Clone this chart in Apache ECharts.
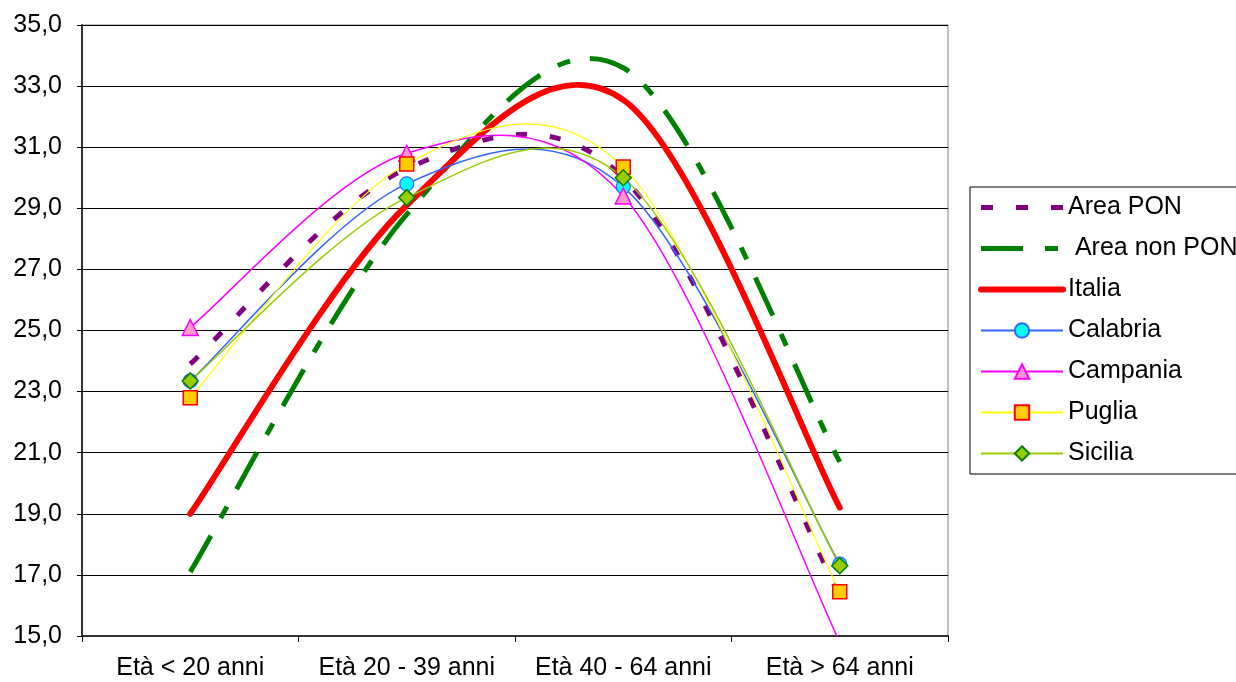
<!DOCTYPE html>
<html>
<head>
<meta charset="utf-8">
<script src="https://cdn.jsdelivr.net/npm/echarts@6/dist/echarts.min.js"></script>
<style>
  html, body { margin: 0; padding: 0; background: #fff; }
  #main { width: 1236px; height: 682px; }
</style>
</head>
<body>
<div id="main"></div>
<script>
// categorie e valori
const categorie = ['Età < 20 anni', 'Età 20 - 39 anni', 'Età 40 - 64 anni', 'Età > 64 anni'];
const areaPon = [23.9, 30.3, 30.0, 16.3];
const areaNonPon = [17.1, 28.8, 33.6, 20.7];
const italia = [19.0, 29.1, 32.55, 19.2];
const calabria = [23.35, 29.8, 29.7, 17.35];
const campania = [25.1, 30.8, 29.4, 14.8];
const puglia = [22.8, 30.45, 30.35, 16.45];
const sicilia = [23.35, 29.35, 30.0, 17.3];

const myChart = echarts.init(document.getElementById('main'));
const font = 'Liberation Sans, Arial, sans-serif';

// curva levigata come quella di Excel (Catmull-Rom -> Bezier, tensione 1/6)
function curva(nome, valori, stile) {
    return {
        name: nome,
        type: 'custom',
        clip: true,
        silent: true,
        z: 2,
        data: valori.map((v, i) => [i, v]),
        renderItem(params, api) {
            if (params.dataIndex !== 0) return null;
            const p = valori.map((v, i) => api.coord([i, v]));
            const n = p.length;
            let d = 'M' + p[0][0] + ' ' + p[0][1];
            for (let i = 0; i < n - 1; i++) {
                const p0 = p[Math.max(i - 1, 0)], p1 = p[i], p2 = p[i + 1], p3 = p[Math.min(i + 2, n - 1)];
                const c1x = p1[0] + (p2[0] - p0[0]) / 6, c1y = p1[1] + (p2[1] - p0[1]) / 6;
                const c2x = p2[0] - (p3[0] - p1[0]) / 6, c2y = p2[1] - (p3[1] - p1[1]) / 6;
                d += ' C' + c1x + ' ' + c1y + ' ' + c2x + ' ' + c2y + ' ' + p2[0] + ' ' + p2[1];
            }
            return {
                type: 'path',
                shape: { pathData: d },
                style: Object.assign({ fill: 'none' }, stile)
            };
        }
    };
}

// serie "line" usate solo per i marcatori e la legenda (linea invisibile)
function marcatori(nome, valori, colore, simbolo, size, itemStyle) {
    return {
        name: nome, type: 'line', data: valori,
        symbol: simbolo, symbolSize: size, showSymbol: simbolo !== 'none',
        lineStyle: { color: colore, opacity: 0 },
        itemStyle: itemStyle || { color: colore },
        z: 5
    };
}

let option = {
    animation: false,
    textStyle: { fontFamily: font },
    grid: { left: 82, right: 288, top: 25, bottom: 46, show: true, borderColor: '#808080', borderWidth: 1 },
    legend: {
        orient: 'vertical',
        left: 970,
        top: 187,
        borderColor: '#000',
        borderWidth: 1,
        padding: [8, 10, 8, 8],
        itemWidth: 82,
        itemHeight: 18,
        itemGap: 16,
        textStyle: { fontSize: 25, color: '#000', lineHeight: 25 },
        data: [
            { name: 'Area PON', itemStyle: { opacity: 0 }, lineStyle: { color: '#800080', width: 5, opacity: 1, type: [12, 23] } },
            { name: ' Area non PON', itemStyle: { opacity: 0 }, lineStyle: { color: '#008000', width: 5, opacity: 1, type: [42, 22, 13, 22] } },
            { name: 'Italia', itemStyle: { opacity: 0 }, lineStyle: { color: '#ff0000', width: 6, opacity: 1, cap: 'round' } },
            { name: 'Calabria', lineStyle: { color: '#3366ff', width: 2, opacity: 1 } },
            { name: 'Campania', lineStyle: { color: '#ff00ff', width: 2, opacity: 1 } },
            { name: 'Puglia', lineStyle: { color: '#ffff00', width: 2, opacity: 1 } },
            { name: 'Sicilia', lineStyle: { color: '#99cc00', width: 2, opacity: 1 } }
        ]
    },
    xAxis: {
        type: 'category',
        data: categorie,
        boundaryGap: true,
        axisLine: { lineStyle: { color: '#333', width: 2 } },
        axisTick: { show: true, interval: 0, length: 6, lineStyle: { color: '#000' } },
        axisLabel: { interval: 0, fontSize: 25, color: '#000', margin: 20, hideOverlap: false }
    },
    yAxis: {
        type: 'value',
        min: 15,
        max: 35,
        interval: 2,
        axisLine: { show: true, lineStyle: { color: '#333', width: 2 } },
        axisTick: { show: true, length: 5, lineStyle: { color: '#000' } },
        splitLine: { lineStyle: { color: '#000', width: 1 } },
        axisLabel: {
            fontSize: 25, color: '#000', margin: 20,
            formatter: function (v) { return v.toFixed(1).replace('.', ','); }
        }
    },
    series: [
        marcatori('Area PON', areaPon, '#800080', 'none', 0),
        marcatori(' Area non PON', areaNonPon, '#008000', 'none', 0),
        marcatori('Italia', italia, '#ff0000', 'none', 0),
        marcatori('Calabria', calabria, '#3366ff', 'circle', 14,
            { color: '#00ffff', borderColor: '#3366ff', borderWidth: 1.2 }),
        marcatori('Campania', campania, '#ff00ff', 'triangle', 16,
            { color: '#ff99cc', borderColor: '#ff00ff', borderWidth: 1.5 }),
        marcatori('Puglia', puglia, '#ffff00', 'rect', 14,
            { color: '#ffcc00', borderColor: '#ff0000', borderWidth: 1.5 }),
        marcatori('Sicilia', sicilia, '#99cc00', 'diamond', 16,
            { color: '#99cc00', borderColor: '#008000', borderWidth: 1.5 }),
        curva('Area PON', areaPon, { stroke: '#800080', lineWidth: 5, lineDash: [11, 23] }),
        curva(' Area non PON', areaNonPon, { stroke: '#008000', lineWidth: 5, lineDash: [42, 20, 13, 20] }),
        curva('Italia', italia, { stroke: '#ff0000', lineWidth: 6, lineCap: 'round' }),
        curva('Calabria', calabria, { stroke: '#3366ff', lineWidth: 1.5 }),
        curva('Campania', campania, { stroke: '#ff00ff', lineWidth: 1.5 }),
        curva('Puglia', puglia, { stroke: '#ffff00', lineWidth: 1.2 }),
        curva('Sicilia', sicilia, { stroke: '#99cc00', lineWidth: 1.5 })
    ]
};
option && myChart.setOption(option);
</script>
</body>
</html>
